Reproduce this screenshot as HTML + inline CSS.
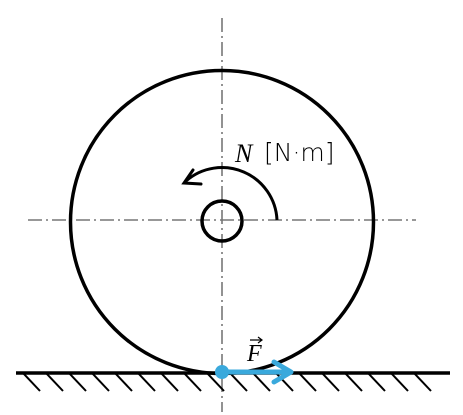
<!DOCTYPE html>
<html><head><meta charset="utf-8"><style>html,body{margin:0;padding:0;background:#fff}svg{display:block}</style></head>
<body>
<svg width="463" height="415" viewBox="0 0 463 415">
<defs>
<clipPath id="c"><rect x="16" y="374" width="434" height="18"/></clipPath>
</defs>
<g stroke="#777" stroke-width="1.6" stroke-dasharray="14,4,2,4" fill="none">
<line x1="222" y1="18" x2="222" y2="412"/>
<line x1="28" y1="220" x2="416" y2="220"/>
</g>
<circle cx="222" cy="222" r="151.5" fill="none" stroke="#000" stroke-width="3.5"/>
<circle cx="222" cy="221" r="20" fill="none" stroke="#000" stroke-width="3.5"/>
<path d="M277 220 A55 55 0 0 0 186 181" fill="none" stroke="#000" stroke-width="3"/>
<path d="M193 170 L184 183 L201 184" fill="none" stroke="#000" stroke-width="3" stroke-linecap="round" stroke-linejoin="miter"/>
<text x="235" y="162" font-family="Liberation Serif, serif" font-style="italic" font-size="26">N</text>
<text x="264" y="161" font-family="DejaVu Sans, sans-serif" font-size="25" font-weight="200">[N·m]</text>
<line x1="16" y1="373" x2="450" y2="373" stroke="#000" stroke-width="3.5"/>
<g id="hatch" clip-path="url(#c)" stroke="#000" stroke-width="2"></g>
<line x1="222" y1="372" x2="288" y2="372" stroke="#3aa9dc" stroke-width="5"/>
<path d="M274 362 L291 372 L274 382" fill="none" stroke="#3aa9dc" stroke-width="5" stroke-linecap="round" stroke-linejoin="round"/>
<circle cx="222" cy="372" r="7" fill="#3aa9dc"/>
<text x="247" y="361" font-family="Liberation Serif, serif" font-style="italic" font-size="24">F</text>
<path d="M250 340 L262 340 M258 337 L262 340 L258 343" fill="none" stroke="#000" stroke-width="1.2"/>
</svg>
<script>
const g=document.getElementById('hatch');
for(let x=23;x<=434;x+=23){
 const l=document.createElementNS('http://www.w3.org/2000/svg','line');
 l.setAttribute('x1',x);l.setAttribute('y1',373);l.setAttribute('x2',x+17);l.setAttribute('y2',391);
 
 
 g.appendChild(l);
}
</script>
</body></html>
